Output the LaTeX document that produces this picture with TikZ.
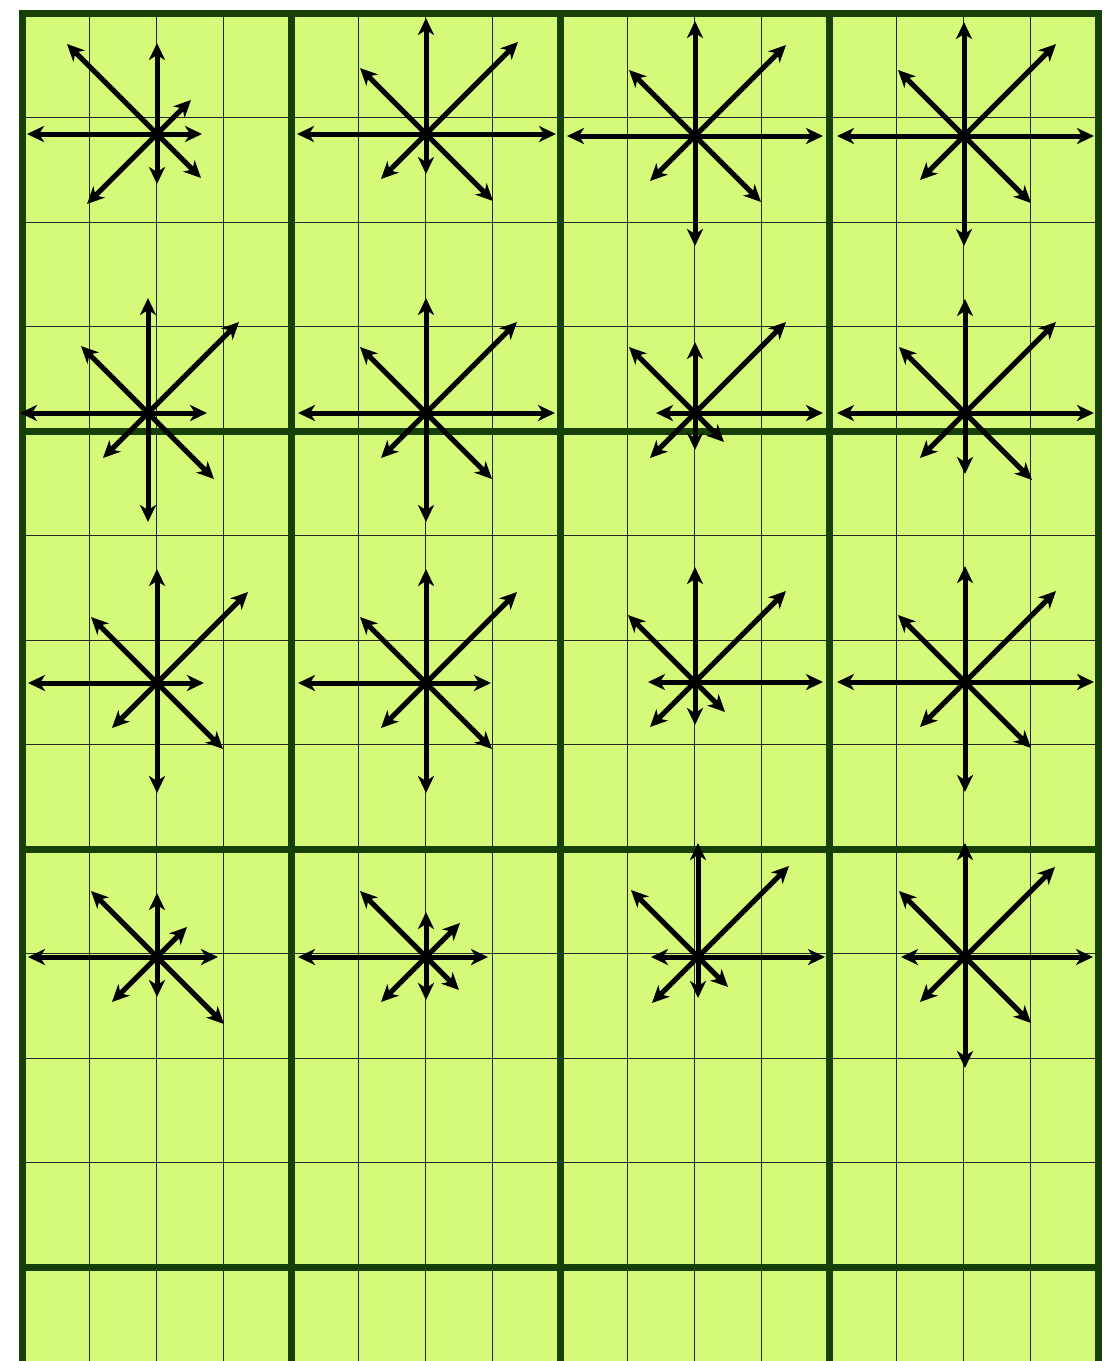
\documentclass[tikz,border=0pt]{standalone}
\usepackage{tikz}
\usetikzlibrary{arrows.meta}
\definecolor{padgreen}{RGB}{213,250,122}
\definecolor{blockgreen}{RGB}{22,64,8}
\tikzset{gridline/.style={draw=black!85,line width=1pt},blockline/.style={draw=blockgreen,line width=7pt,line cap=rect},vec/.style={-{Stealth[length=17pt,width=16pt,inset=5pt]},line width=5pt,black}}
% eight arrows from one centre: N, NE, E, SE, S, SW, W, NW
\newcommand{\arrowrose}[9]{%
  \draw[vec] (#1) -- ++(0,#2);
  \draw[vec] (#1) -- ++(#3,#3);
  \draw[vec] (#1) -- ++(#4,0);
  \draw[vec] (#1) -- ++(#5,-#5);
  \draw[vec] (#1) -- ++(0,-#6);
  \draw[vec] (#1) -- ++(-#7,-#7);
  \draw[vec] (#1) -- ++(-#8,0);
  \draw[vec] (#1) -- ++(-#9,#9);}
\begin{document}
\begin{tikzpicture}[x=1pt,y=1pt]
\clip (0,0) rectangle (1115,-1361);
\fill[padgreen] (22,-13) rectangle (1098,-1370);
% cell lines, then block lines
\foreach \k in {1,...,15} \draw[gridline] ({22+67.25*\k},-13) -- ({22+67.25*\k},-1370);
\foreach \j in {1,...,12} \draw[gridline] (22,{-13-104.5*\j}) -- (1098,{-13-104.5*\j});
\foreach \k in {0,4,8,12,16} \draw[blockline] ({22+67.25*\k},-13) -- ({22+67.25*\k},-1370);
\foreach \j in {0,4,8,12} \draw[blockline] (22,{-13-104.5*\j}) -- (1098,{-13-104.5*\j});
% centres
\coordinate (n11) at (157,-134);
\coordinate (n12) at (426,-134);
\coordinate (n13) at (695,-136);
\coordinate (n14) at (964,-136);
\coordinate (n21) at (148,-413);
\coordinate (n22) at (426,-413);
\coordinate (n23) at (695,-413);
\coordinate (n24) at (965,-413);
\coordinate (n31) at (157,-683);
\coordinate (n32) at (426,-683);
\coordinate (n33) at (695,-682);
\coordinate (n34) at (965,-682);
\coordinate (n41) at (157,-957);
\coordinate (n42) at (426,-957);
\coordinate (n43) at (698,-957);
\coordinate (n44) at (965,-957);
\arrowrose{n11}{91}{34}{45}{44}{50}{70}{130}{90}
\arrowrose{n12}{116}{92}{130}{67}{40}{45}{129}{66}
\arrowrose{n13}{115}{91}{128}{66}{110}{45}{128}{66}
\arrowrose{n14}{114}{92}{130}{67}{110}{44}{127}{66}
\arrowrose{n21}{115}{91}{59}{66}{109}{45}{128}{67}
\arrowrose{n22}{115}{91}{129}{66}{109}{45}{128}{66}
\arrowrose{n23}{71}{91}{128}{29}{37}{45}{39}{66}
\arrowrose{n24}{114}{91}{129}{67}{61}{45}{128}{66}
\arrowrose{n31}{114}{91}{47}{66}{110}{45}{129}{66}
\arrowrose{n32}{114}{91}{65}{66}{110}{45}{128}{66}
\arrowrose{n33}{115}{91}{128}{30}{43}{45}{47}{67}
\arrowrose{n34}{116}{91}{129}{66}{110}{45}{128}{67}
\arrowrose{n41}{64}{30}{61}{67}{40}{45}{129}{66}
\arrowrose{n42}{45}{34}{62}{33}{43}{45}{128}{66}
\arrowrose{n43}{114}{91}{127}{30}{41}{46}{47}{67}
\arrowrose{n44}{114}{90}{128}{66}{111}{45}{64}{66}
\end{tikzpicture}
\end{document}
